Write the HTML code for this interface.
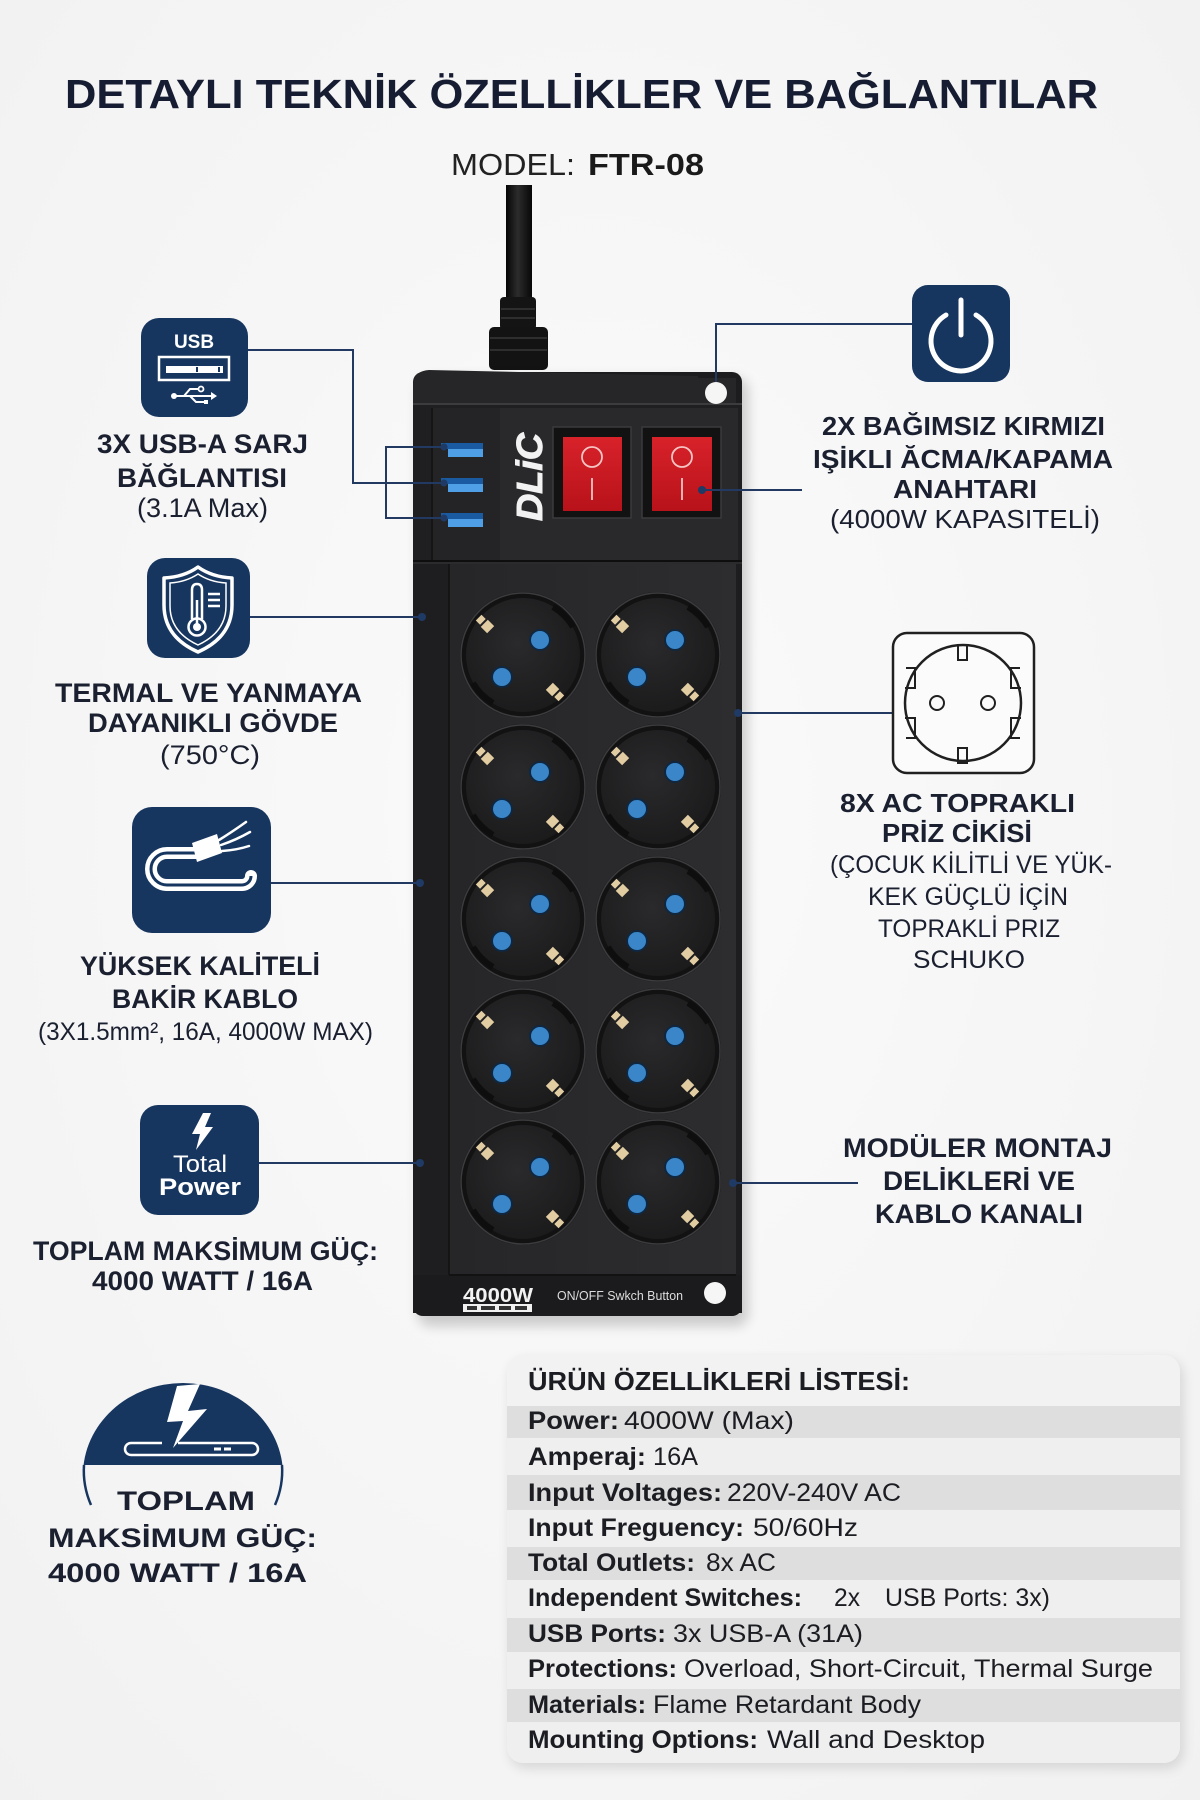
<!DOCTYPE html>
<html><head><meta charset="utf-8">
<style>
html,body{margin:0;padding:0;background:#f6f6f6;}
svg{display:block;}
text{font-family:"Liberation Sans","DejaVu Sans",sans-serif;}
.b{font-weight:bold;}
</style></head>
<body>
<svg width="1200" height="1800" viewBox="0 0 1200 1800" xmlns="http://www.w3.org/2000/svg">
<defs>
  <radialGradient id="bg" cx="50%" cy="45%" r="75%">
    <stop offset="0" stop-color="#fbfbfb"/><stop offset="1" stop-color="#f1f1f1"/>
  </radialGradient>
  <linearGradient id="cab" x1="0" x2="1" y1="0" y2="0">
    <stop offset="0" stop-color="#050505"/><stop offset=".45" stop-color="#2c2c2c"/><stop offset="1" stop-color="#070707"/>
  </linearGradient>
  <radialGradient id="sockIn" cx="45%" cy="40%" r="65%">
    <stop offset="0" stop-color="#2a2a2c"/><stop offset="1" stop-color="#1a1a1b"/>
  </radialGradient>
  <linearGradient id="red" x1="0" x2="0" y1="0" y2="1">
    <stop offset="0" stop-color="#d8222a"/><stop offset="1" stop-color="#b8121a"/>
  </linearGradient>
  <linearGradient id="face" x1="0" x2="1" y1="0" y2="0">
    <stop offset="0" stop-color="#262628"/><stop offset="1" stop-color="#2d2d2f"/>
  </linearGradient>
  <filter id="sh" x="-20%" y="-20%" width="140%" height="140%"><feGaussianBlur stdDeviation="6"/></filter>
  <clipPath id="tblclip"><rect x="507" y="1355" width="673" height="408" rx="16"/></clipPath>
  <clipPath id="circTop"><rect x="60" y="1370" width="250" height="95"/></clipPath>
  <g id="sock">
    <circle r="63" fill="#121213"/>
    <circle r="62" fill="none" stroke="#3c3c3e" stroke-width="1.5"/>
    <circle r="57" fill="url(#sockIn)"/>
    <path d="M30,-48 A57,57 0 0 1 50,-28" stroke="#0e0e0f" stroke-width="6" fill="none"/>
    <path d="M-30,48 A57,57 0 0 1 -50,28" stroke="#0e0e0f" stroke-width="6" fill="none"/>
    <circle cx="17" cy="-15" r="10" fill="#3a86c8" stroke="#0f2740" stroke-width="2"/>
    <circle cx="-21" cy="22" r="10" fill="#3a86c8" stroke="#0f2740" stroke-width="2"/>
    <g transform="translate(-38,-31) rotate(45)">
      <rect x="-9" y="-4" width="6" height="8" fill="#e2cca2"/>
      <rect x="-1" y="-5" width="9" height="10" fill="#e2cca2"/>
    </g>
    <g transform="translate(32,37) rotate(45)">
      <rect x="-8" y="-5" width="9" height="10" fill="#e2cca2"/>
      <rect x="3" y="-4" width="6" height="8" fill="#e2cca2"/>
    </g>
  </g>
</defs>

<rect width="1200" height="1800" fill="url(#bg)"/>

<!-- Title -->
<text x="65" y="108" font-size="41" class="b" fill="#161d33" textLength="1033" lengthAdjust="spacingAndGlyphs">DETAYLI TEKNİK ÖZELLİKLER VE BAĞLANTILAR</text>
<text x="451" y="175" font-size="31" fill="#222" textLength="124" lengthAdjust="spacingAndGlyphs">MODEL:</text>
<text x="588" y="175" font-size="31" class="b" fill="#1a1a1a" textLength="116" lengthAdjust="spacingAndGlyphs">FTR-08</text>

<!-- Cable -->
<rect x="506" y="185" width="26" height="120" fill="url(#cab)"/>
<rect x="500" y="297" width="36" height="33" rx="4" fill="#141414"/>
<rect x="489" y="327" width="59" height="43" rx="5" fill="#131313"/>
<g stroke="#2e2e2e" stroke-width="2">
  <line x1="501" y1="309" x2="535" y2="309"/><line x1="501" y1="318" x2="535" y2="318"/>
  <line x1="490" y1="338" x2="547" y2="338"/><line x1="490" y1="350" x2="547" y2="350"/>
</g>

<!-- Power strip -->
<rect x="418" y="378" width="330" height="948" rx="12" fill="#000" opacity=".18" filter="url(#sh)"/>
<rect x="413" y="372" width="329" height="944" rx="10" fill="#1c1c1e"/>
<path d="M413,405 L413,386 Q413,371 429,370 L698,376 L698,378 L736,378 L736,405 Z" fill="#262628"/>
<line x1="413" y1="404" x2="742" y2="404" stroke="#3c3c3e" stroke-width="2"/>
<circle cx="716" cy="393" r="11" fill="#f5f5f5"/>
<rect x="413" y="405" width="329" height="156" fill="#1f1f21"/>
<rect x="432" y="408" width="306" height="152" fill="#29292b"/>
<rect x="432" y="408" width="68" height="152" fill="#242426"/>
<line x1="432" y1="408" x2="432" y2="560" stroke="#151516" stroke-width="2"/>
<g>
  <rect x="441" y="443" width="42" height="6" fill="#1a5aa0"/><rect x="448" y="449" width="35" height="8" fill="#4f9fe6"/>
  <rect x="441" y="478" width="42" height="6" fill="#1a5aa0"/><rect x="448" y="484" width="35" height="8" fill="#4f9fe6"/>
  <rect x="441" y="513" width="42" height="6" fill="#1a5aa0"/><rect x="448" y="519" width="35" height="8" fill="#4f9fe6"/>
</g>
<text transform="translate(542,477) rotate(-90)" text-anchor="middle" font-size="36" class="b" font-style="italic" fill="#f2f2f2" stroke="#f2f2f2" stroke-width="1" textLength="88" lengthAdjust="spacingAndGlyphs">DLiC</text>
<rect x="553" y="427" width="78" height="91" fill="#121213" stroke="#3a3a3c" stroke-width="1.5"/>
<rect x="563" y="437" width="59" height="74" fill="url(#red)"/>
<ellipse cx="592" cy="457" rx="10" ry="10" fill="none" stroke="#f4c4c4" stroke-width="1.8"/>
<line x1="592" y1="478" x2="592" y2="500" stroke="#f4c4c4" stroke-width="1.8"/>
<rect x="642" y="427" width="79" height="91" fill="#121213" stroke="#3a3a3c" stroke-width="1.5"/>
<rect x="652" y="437" width="60" height="74" fill="url(#red)"/>
<ellipse cx="682" cy="457" rx="10" ry="10" fill="none" stroke="#f4c4c4" stroke-width="1.8"/>
<line x1="682" y1="478" x2="682" y2="500" stroke="#f4c4c4" stroke-width="1.8"/>

<line x1="413" y1="561" x2="742" y2="561" stroke="#0e0e0f" stroke-width="2"/>
<line x1="413" y1="563" x2="742" y2="563" stroke="#3a3a3c" stroke-width="1"/>
<rect x="413" y="564" width="36" height="745" fill="#1e1e20"/>
<rect x="449" y="564" width="287" height="711" fill="url(#face)"/>
<line x1="449" y1="564" x2="449" y2="1275" stroke="#111" stroke-width="1.5"/>
<rect x="736" y="564" width="6" height="711" fill="#1d1d1f"/>
<rect x="413" y="1275" width="329" height="38" fill="#1b1b1d"/>
<line x1="449" y1="1275" x2="736" y2="1275" stroke="#121213" stroke-width="2"/>

<use href="#sock" x="523" y="655"/><use href="#sock" x="658" y="655"/>
<use href="#sock" x="523" y="787"/><use href="#sock" x="658" y="787"/>
<use href="#sock" x="523" y="919"/><use href="#sock" x="658" y="919"/>
<use href="#sock" x="523" y="1051"/><use href="#sock" x="658" y="1051"/>
<use href="#sock" x="523" y="1182"/><use href="#sock" x="658" y="1182"/>

<text x="463" y="1302" font-size="20" class="b" fill="#f2f2f2" textLength="70" lengthAdjust="spacingAndGlyphs">4000W</text>
<rect x="463" y="1304" width="69" height="8" fill="#f0f0f0"/>
<g fill="#333"><rect x="467" y="1306" width="10" height="4"/><rect x="481" y="1306" width="14" height="4"/><rect x="499" y="1306" width="12" height="4"/><rect x="515" y="1306" width="12" height="4"/></g>
<text x="557" y="1300" font-size="13" fill="#dcdcdc" textLength="126" lengthAdjust="spacingAndGlyphs">ON/OFF Swkch Button</text>
<circle cx="715" cy="1293" r="11" fill="#f6f6f6"/>

<!-- Connectors -->
<g stroke="#223a62" stroke-width="2" fill="none">
  <polyline points="248,350 353,350 353,483 444,483"/>
  <polyline points="444,447 386,447 386,518 444,518"/>
  <line x1="250" y1="617" x2="422" y2="617"/>
  <line x1="271" y1="883" x2="420" y2="883"/>
  <line x1="259" y1="1163" x2="420" y2="1163"/>
  <polyline points="716,382 716,324 912,324"/>
  <line x1="702" y1="490" x2="802" y2="490"/>
  <line x1="738" y1="713" x2="893" y2="713"/>
  <line x1="733" y1="1183" x2="858" y2="1183"/>
</g>
<g fill="#1f3a64">
  <circle cx="444" cy="447" r="3.5"/><circle cx="444" cy="483" r="3.5"/><circle cx="444" cy="518" r="3.5"/>
  <circle cx="422" cy="617" r="4"/><circle cx="420" cy="883" r="4"/><circle cx="420" cy="1163" r="4"/>
  <circle cx="702" cy="490" r="4"/><circle cx="738" cy="713" r="4"/><circle cx="733" cy="1183" r="4"/>
</g>

<!-- USB icon -->
<rect x="141" y="318" width="107" height="99" rx="18" fill="#17365f"/>
<text x="194" y="348" font-size="19" class="b" fill="#fff" text-anchor="middle">USB</text>
<rect x="159" y="357" width="70" height="23" fill="none" stroke="#fff" stroke-width="2.5"/>
<rect x="166" y="366" width="57" height="7" fill="#fff"/>
<rect x="196" y="367" width="2" height="5" fill="#17365f"/><rect x="218" y="367" width="2" height="5" fill="#17365f"/>
<g stroke="#fff" stroke-width="2" fill="none">
  <line x1="174" y1="396" x2="211" y2="396"/>
  <polyline points="184,396 190,389 198,389"/>
  <polyline points="190,396 196,402 204,402"/>
</g>
<circle cx="174" cy="396" r="3" fill="#fff"/>
<circle cx="201" cy="389" r="2.5" fill="none" stroke="#fff" stroke-width="1.8"/>
<rect x="204" y="400" width="4" height="4" fill="#fff"/>
<polygon points="211,392 217,396 211,400" fill="#fff"/>

<!-- Thermal icon -->
<rect x="147" y="558" width="103" height="100" rx="18" fill="#17365f"/>
<path d="M198,567 Q184,577 164,578 L164,605 Q164,637 198,652 Q232,637 232,605 L232,578 Q212,577 198,567 Z" fill="none" stroke="#fff" stroke-width="3.5" stroke-linejoin="round"/>
<path d="M198,574 Q186,582 170,583 L170,606 Q170,632 198,645 Q226,632 226,606 L226,583 Q210,582 198,574 Z" fill="none" stroke="#fff" stroke-width="1.5"/>
<path d="M192,619 L192,590 Q192,584 197,584 Q202,584 202,590 L202,619" fill="none" stroke="#fff" stroke-width="2.5"/>
<circle cx="197" cy="627" r="8.5" fill="none" stroke="#fff" stroke-width="2.5"/>
<circle cx="197" cy="627" r="4" fill="#fff"/>
<line x1="197" y1="600" x2="197" y2="624" stroke="#fff" stroke-width="2.5"/>
<g stroke="#fff" stroke-width="2.5"><line x1="208" y1="594" x2="220" y2="594"/><line x1="208" y1="600" x2="220" y2="600"/><line x1="208" y1="606" x2="220" y2="606"/></g>

<!-- Cable icon -->
<rect x="132" y="807" width="139" height="126" rx="20" fill="#17365f"/>
<path d="M199,853 L167,853 A16,16 0 0 0 167,885 L242,885 A9,9 0 0 0 251,876" fill="none" stroke="#fff" stroke-width="12" stroke-linecap="round"/>
<path d="M199,853 L167,853 A16,16 0 0 0 167,885 L242,885 A9,9 0 0 0 251,876" fill="none" stroke="#17365f" stroke-width="3"/>
<polygon points="192,843 217,834 222,853 197,862" fill="#fff"/>
<g stroke="#fff" stroke-width="2.5" stroke-linecap="round" fill="none">
  <path d="M219,840 Q232,832 246,822"/><path d="M221,845 Q236,840 250,832"/><path d="M222,851 Q237,850 249,846"/>
</g>

<!-- Total Power icon -->
<rect x="140" y="1105" width="119" height="110" rx="18" fill="#17365f"/>
<polygon points="203,1113 211,1113 205,1127 213,1127 196,1150 200,1134 192,1134" fill="#fff"/>
<text x="200" y="1172" font-size="24" fill="#fff" text-anchor="middle" textLength="54" lengthAdjust="spacingAndGlyphs">Total</text>
<text x="200" y="1195" font-size="24" class="b" fill="#fff" text-anchor="middle" textLength="82" lengthAdjust="spacingAndGlyphs">Power</text>

<!-- Power icon -->
<rect x="912" y="285" width="98" height="97" rx="16" fill="#17365f"/>
<path d="M946,315 A30,30 0 1 0 976,315" fill="none" stroke="#fff" stroke-width="5" stroke-linecap="round"/>
<line x1="961" y1="300" x2="961" y2="335" stroke="#fff" stroke-width="5" stroke-linecap="round"/>

<!-- Socket outline icon -->
<rect x="893" y="633" width="141" height="140" rx="14" fill="#fbfbfb" stroke="#202020" stroke-width="2.5"/>
<circle cx="963" cy="703" r="58" fill="none" stroke="#202020" stroke-width="2.5"/>
<circle cx="937" cy="703" r="7" fill="none" stroke="#202020" stroke-width="2"/>
<circle cx="988" cy="703" r="7" fill="none" stroke="#202020" stroke-width="2"/>
<g fill="none" stroke="#202020" stroke-width="2">
  <rect x="958" y="645" width="9" height="15"/><rect x="958" y="748" width="9" height="15"/>
  <polyline points="906,668 915,668 915,688 905,688"/><polyline points="905,718 915,718 915,738 906,738"/>
  <polyline points="1020,668 1011,668 1011,688 1021,688"/><polyline points="1021,718 1011,718 1011,738 1020,738"/>
</g>

<!-- Left labels -->
<g fill="#1b2030">
<text x="97" y="453" font-size="27" class="b" textLength="211" lengthAdjust="spacingAndGlyphs">3X USB-A SARJ</text>
<text x="117" y="487" font-size="27" class="b" textLength="170" lengthAdjust="spacingAndGlyphs">BĂĞLANTISI</text>
<text x="137" y="517" font-size="27" textLength="131" lengthAdjust="spacingAndGlyphs">(3.1A Max)</text>

<text x="55" y="702" font-size="27" class="b" textLength="307" lengthAdjust="spacingAndGlyphs">TERMAL VE YANMAYA</text>
<text x="88" y="732" font-size="27" class="b" textLength="250" lengthAdjust="spacingAndGlyphs">DAYANIKLI GÖVDE</text>
<text x="160" y="764" font-size="27" textLength="100" lengthAdjust="spacingAndGlyphs">(750°C)</text>

<text x="80" y="975" font-size="27" class="b" textLength="240" lengthAdjust="spacingAndGlyphs">YÜKSEK KALİTELİ</text>
<text x="112" y="1008" font-size="27" class="b" textLength="186" lengthAdjust="spacingAndGlyphs">BAKİR KABLO</text>
<text x="38" y="1040" font-size="25" textLength="335" lengthAdjust="spacingAndGlyphs">(3X1.5mm², 16A, 4000W MAX)</text>

<text x="33" y="1260" font-size="27" class="b" textLength="345" lengthAdjust="spacingAndGlyphs">TOPLAM MAKSİMUM GÜÇ:</text>
<text x="92" y="1290" font-size="27" class="b" textLength="221" lengthAdjust="spacingAndGlyphs">4000 WATT / 16A</text>

<!-- Right labels -->
<text x="822" y="435" font-size="26" class="b" textLength="283" lengthAdjust="spacingAndGlyphs">2X BAĞIMSIZ KIRMIZI</text>
<text x="813" y="468" font-size="26" class="b" textLength="300" lengthAdjust="spacingAndGlyphs">IŞİKLI ĂCMA/KAPAMA</text>
<text x="893" y="498" font-size="26" class="b" textLength="144" lengthAdjust="spacingAndGlyphs">ANAHTARI</text>
<text x="830" y="528" font-size="26" textLength="270" lengthAdjust="spacingAndGlyphs">(4000W KAPASITELİ)</text>

<text x="840" y="812" font-size="26" class="b" textLength="235" lengthAdjust="spacingAndGlyphs">8X AC TOPRAKLI</text>
<text x="882" y="842" font-size="26" class="b" textLength="150" lengthAdjust="spacingAndGlyphs">PRİZ CİKİSİ</text>
<text x="830" y="873" font-size="25" textLength="282" lengthAdjust="spacingAndGlyphs">(ÇOCUK KİLİTLİ VE YÜK-</text>
<text x="868" y="905" font-size="25" textLength="200" lengthAdjust="spacingAndGlyphs">KEK GÜÇLÜ İÇİN</text>
<text x="878" y="937" font-size="25" textLength="182" lengthAdjust="spacingAndGlyphs">TOPRAKLİ PRIZ</text>
<text x="913" y="968" font-size="25" textLength="112" lengthAdjust="spacingAndGlyphs">SCHUKO</text>

<text x="843" y="1157" font-size="27" class="b" textLength="269" lengthAdjust="spacingAndGlyphs">MODÜLER MONTAJ</text>
<text x="883" y="1190" font-size="27" class="b" textLength="192" lengthAdjust="spacingAndGlyphs">DELİKLERİ VE</text>
<text x="875" y="1223" font-size="27" class="b" textLength="208" lengthAdjust="spacingAndGlyphs">KABLO KANALI</text>
</g>

<!-- Big circle icon -->
<ellipse cx="183" cy="1475" rx="100" ry="92" fill="#17365f" clip-path="url(#circTop)"/>
<path d="M84,1465 A100,92 0 0 0 91,1505" fill="none" stroke="#17365f" stroke-width="2.5"/>
<path d="M282,1465 A100,92 0 0 1 275,1505" fill="none" stroke="#17365f" stroke-width="2.5"/>
<polygon points="177,1386 200,1384 188,1411 207,1409 173,1448 183,1421 167,1422" fill="#fff"/>
<path d="M162,1443 L131,1443 A6,6 0 0 0 131,1455 L252,1455 A6,6 0 0 0 252,1443 L178,1443" fill="none" stroke="#fff" stroke-width="2.5"/>
<g stroke="#fff" stroke-width="3"><line x1="214" y1="1449" x2="221" y2="1449"/><line x1="224" y1="1449" x2="231" y2="1449"/></g>
<g fill="#1b2030">
<text x="117" y="1510" font-size="27" class="b" textLength="138" lengthAdjust="spacingAndGlyphs">TOPLAM</text>
<text x="48" y="1547" font-size="27" class="b" textLength="269" lengthAdjust="spacingAndGlyphs">MAKSİMUM GÜÇ:</text>
<text x="48" y="1582" font-size="27" class="b" textLength="259" lengthAdjust="spacingAndGlyphs">4000 WATT / 16A</text>
</g>

<!-- Spec table -->
<rect x="510" y="1360" width="673" height="408" rx="16" fill="#000" opacity=".12" filter="url(#sh)"/>
<g clip-path="url(#tblclip)">
  <rect x="507" y="1355" width="673" height="408" fill="#f2f2f2"/>
  <rect x="507" y="1406" width="673" height="32" fill="#dedede"/>
  <rect x="507" y="1438" width="673" height="37" fill="#efefef"/>
  <rect x="507" y="1475" width="673" height="35" fill="#dedede"/>
  <rect x="507" y="1510" width="673" height="37" fill="#efefef"/>
  <rect x="507" y="1547" width="673" height="33" fill="#dedede"/>
  <rect x="507" y="1580" width="673" height="38" fill="#efefef"/>
  <rect x="507" y="1618" width="673" height="34" fill="#dedede"/>
  <rect x="507" y="1652" width="673" height="37" fill="#efefef"/>
  <rect x="507" y="1689" width="673" height="33" fill="#dedede"/>
  <rect x="507" y="1722" width="673" height="41" fill="#efefef"/>
</g>
<g fill="#1c1d22" font-size="25">
<text x="528" y="1390" font-size="26" class="b" textLength="382" lengthAdjust="spacingAndGlyphs">ÜRÜN ÖZELLİKLERİ LİSTESİ:</text>

<text x="528" y="1429" class="b" textLength="91" lengthAdjust="spacingAndGlyphs">Power:</text>
<text x="624" y="1429" textLength="170" lengthAdjust="spacingAndGlyphs">4000W (Max)</text>

<text x="528" y="1465" class="b" textLength="118" lengthAdjust="spacingAndGlyphs">Amperaj:</text>
<text x="653" y="1465" textLength="45" lengthAdjust="spacingAndGlyphs">16A</text>

<text x="528" y="1501" class="b" textLength="194" lengthAdjust="spacingAndGlyphs">Input Voltages:</text>
<text x="727" y="1501" textLength="174" lengthAdjust="spacingAndGlyphs">220V-240V AC</text>

<text x="528" y="1536" class="b" textLength="216" lengthAdjust="spacingAndGlyphs">Input Freguency:</text>
<text x="753" y="1536" textLength="105" lengthAdjust="spacingAndGlyphs">50/60Hz</text>

<text x="528" y="1571" class="b" textLength="167" lengthAdjust="spacingAndGlyphs">Total Outlets:</text>
<text x="706" y="1571" textLength="70" lengthAdjust="spacingAndGlyphs">8x AC</text>

<text x="528" y="1606" class="b" textLength="274" lengthAdjust="spacingAndGlyphs">Independent Switches:</text>
<text x="834" y="1606" textLength="26" lengthAdjust="spacingAndGlyphs">2x</text>
<text x="885" y="1606" textLength="165" lengthAdjust="spacingAndGlyphs">USB Ports: 3x)</text>

<text x="528" y="1642" class="b" textLength="138" lengthAdjust="spacingAndGlyphs">USB Ports:</text>
<text x="673" y="1642" textLength="190" lengthAdjust="spacingAndGlyphs">3x USB-A (31A)</text>

<text x="528" y="1677" class="b" textLength="149" lengthAdjust="spacingAndGlyphs">Protections:</text>
<text x="684" y="1677" textLength="469" lengthAdjust="spacingAndGlyphs">Overload, Short-Circuit, Thermal Surge</text>

<text x="528" y="1713" class="b" textLength="118" lengthAdjust="spacingAndGlyphs">Materials:</text>
<text x="653" y="1713" textLength="268" lengthAdjust="spacingAndGlyphs">Flame Retardant Body</text>

<text x="528" y="1748" class="b" textLength="230" lengthAdjust="spacingAndGlyphs">Mounting Options:</text>
<text x="767" y="1748" textLength="218" lengthAdjust="spacingAndGlyphs">Wall and Desktop</text>
</g>
</svg>
</body></html>
